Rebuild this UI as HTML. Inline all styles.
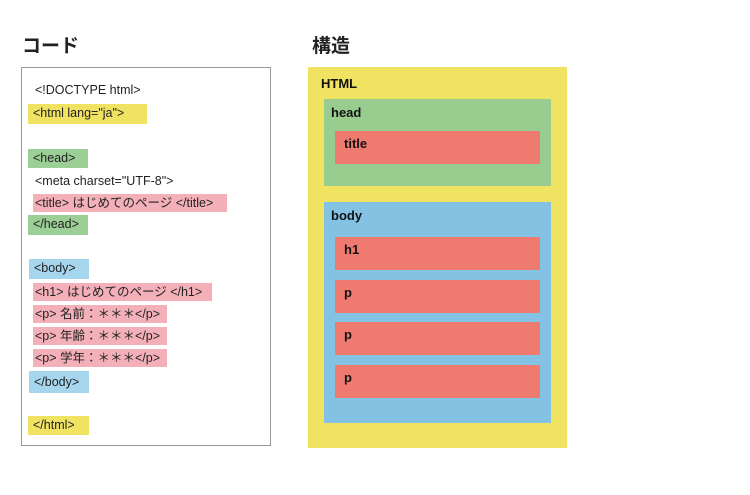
<!DOCTYPE html>
<html><head><meta charset="utf-8"><style>
body{margin:0;width:750px;height:495px;background:#fff;position:relative;font-family:"Liberation Sans","Noto Sans CJK JP",sans-serif;overflow:hidden}
.a{position:absolute}
.t{font-size:19px;font-weight:bold;color:#222}
.code{left:21px;top:67px;width:250px;height:379px;border:1px solid #999;box-sizing:border-box}
.hl{position:absolute;font-size:12.5px;color:#222;line-height:19px;padding-left:5px;box-sizing:border-box;white-space:nowrap}
.y{background:#f1e362}.g{background:#9bcf95}.r{background:#f4b0b8}.b{background:#a5d6ee}
.box{position:absolute;box-sizing:border-box}
.lb{position:absolute;font-size:13px;font-weight:bold;color:#111}
</style></head><body>
<div class="a t" style="left:22px;top:31px">コード</div>
<div class="a t" style="left:312px;top:31px">構造</div>
<div class="a code"></div>
<div class="hl" style="left:30px;top:81px">&lt;!DOCTYPE html&gt;</div>
<div class="hl y" style="left:28px;top:104px;width:119px;height:20px">&lt;html lang="ja"&gt;</div>
<div class="hl g" style="left:28px;top:149px;width:60px;height:19px">&lt;head&gt;</div>
<div class="hl" style="left:30px;top:172px">&lt;meta charset="UTF-8"&gt;</div>
<div class="hl r" style="left:33px;top:194px;width:194px;height:18px;padding-left:2px">&lt;title&gt; はじめてのページ &lt;/title&gt;</div>
<div class="hl g" style="left:28px;top:215px;width:60px;height:20px">&lt;/head&gt;</div>
<div class="hl b" style="left:29px;top:259px;width:60px;height:20px">&lt;body&gt;</div>
<div class="hl r" style="left:33px;top:283px;width:179px;height:18px;padding-left:2px">&lt;h1&gt; はじめてのページ &lt;/h1&gt;</div>
<div class="hl r" style="left:33px;top:305px;width:134px;height:18px;padding-left:2px">&lt;p&gt; 名前：＊＊＊&lt;/p&gt;</div>
<div class="hl r" style="left:33px;top:327px;width:134px;height:18px;padding-left:2px">&lt;p&gt; 年齢：＊＊＊&lt;/p&gt;</div>
<div class="hl r" style="left:33px;top:349px;width:134px;height:18px;padding-left:2px">&lt;p&gt; 学年：＊＊＊&lt;/p&gt;</div>
<div class="hl b" style="left:29px;top:371px;width:60px;height:22px;line-height:22px">&lt;/body&gt;</div>
<div class="hl y" style="left:28px;top:416px;width:61px;height:19px">&lt;/html&gt;</div>

<div class="box" style="left:308px;top:67px;width:259px;height:381px;background:#f1e362"></div>
<div class="lb" style="left:321px;top:76px">HTML</div>
<div class="box" style="left:324px;top:99px;width:227px;height:87px;background:#99cd90"></div>
<div class="lb" style="left:331px;top:105px">head</div>
<div class="box" style="left:335px;top:131px;width:205px;height:33px;background:#ee7a70"></div>
<div class="lb" style="left:344px;top:136px">title</div>
<div class="box" style="left:324px;top:202px;width:227px;height:221px;background:#84c2e3"></div>
<div class="lb" style="left:331px;top:208px">body</div>
<div class="box" style="left:335px;top:237px;width:205px;height:33px;background:#ee7a70"></div>
<div class="lb" style="left:344px;top:242px">h1</div>
<div class="box" style="left:335px;top:280px;width:205px;height:33px;background:#ee7a70"></div>
<div class="lb" style="left:344px;top:285px">p</div>
<div class="box" style="left:335px;top:322px;width:205px;height:33px;background:#ee7a70"></div>
<div class="lb" style="left:344px;top:327px">p</div>
<div class="box" style="left:335px;top:365px;width:205px;height:33px;background:#ee7a70"></div>
<div class="lb" style="left:344px;top:370px">p</div>
</body></html>
